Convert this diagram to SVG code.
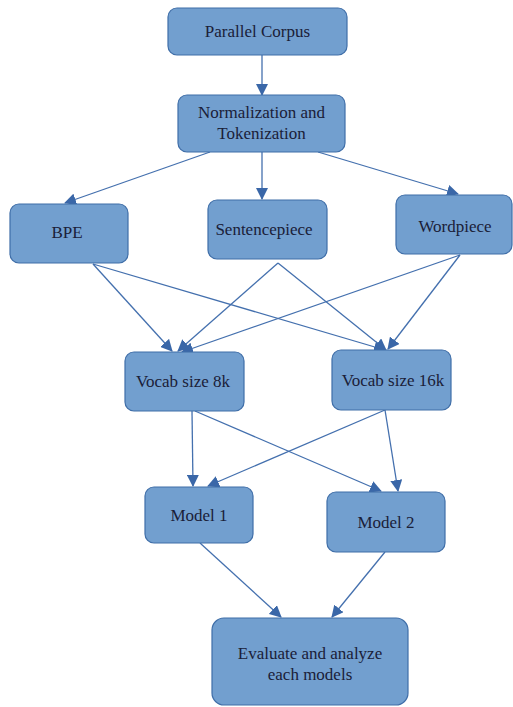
<svg xmlns="http://www.w3.org/2000/svg" width="513" height="707" viewBox="0 0 513 707">
<style>
.n rect{fill:#729fcf;stroke:#3f6ea8;stroke-width:1.2}
.n text{font-family:"Liberation Serif",serif;font-size:17px;fill:#1a2038;text-anchor:middle}
.c line{stroke:#4470ae;stroke-width:1.3;marker-end:url(#ah)}
</style>
<defs>
<marker id="ah" viewBox="0 0 12 12" refX="11" refY="6" markerWidth="12" markerHeight="12" markerUnits="userSpaceOnUse" orient="auto">
<path d="M0,0 L12,6 L0,12 Z" fill="#3a67a8"/>
</marker>
</defs>
<rect width="513" height="707" fill="#fff"/>
<g class="c">
<line x1="262" y1="55" x2="262" y2="95"/>
<line x1="210" y1="152" x2="65" y2="203"/>
<line x1="262" y1="152" x2="262" y2="199"/>
<line x1="318" y1="152" x2="458" y2="194"/>
<line x1="93" y1="264" x2="172" y2="351"/>
<line x1="93" y1="264" x2="385" y2="350"/>
<line x1="278" y1="263" x2="178" y2="351"/>
<line x1="278" y1="263" x2="386" y2="350"/>
<line x1="460" y1="255" x2="182" y2="352"/>
<line x1="460" y1="255" x2="388" y2="349"/>
<line x1="192" y1="411" x2="193" y2="486"/>
<line x1="195" y1="411" x2="381" y2="491"/>
<line x1="385" y1="410" x2="208" y2="486"/>
<line x1="385" y1="410" x2="398" y2="491"/>
<line x1="200" y1="543" x2="281" y2="617"/>
<line x1="385" y1="552" x2="332" y2="617"/>
</g>
<g id="parallel" class="n"><rect x="168" y="8" width="179" height="47" rx="9"/><text x="257.5" y="37">Parallel Corpus</text></g>
<g id="norm" class="n"><rect x="178" y="95" width="167" height="57" rx="9"/><text x="261.5" y="118">Normalization and</text><text x="261.5" y="139">Tokenization</text></g>
<g id="bpe" class="n"><rect x="10" y="204" width="118" height="59" rx="9"/><text x="67" y="238">BPE</text></g>
<g id="sentencepiece" class="n"><rect x="208" y="200" width="119" height="59" rx="9"/><text x="264" y="235">Sentencepiece</text></g>
<g id="wordpiece" class="n"><rect x="396" y="195" width="116" height="59" rx="9"/><text x="455" y="232">Wordpiece</text></g>
<g id="vocab8k" class="n"><rect x="125" y="352" width="119" height="59" rx="9"/><text x="183" y="387">Vocab size 8k</text></g>
<g id="vocab16k" class="n"><rect x="332" y="350" width="119" height="60" rx="9"/><text x="393" y="386">Vocab size 16k</text></g>
<g id="model1" class="n"><rect x="145" y="487" width="108" height="56" rx="9"/><text x="199" y="521">Model 1</text></g>
<g id="model2" class="n"><rect x="327" y="492" width="118" height="60" rx="9"/><text x="386" y="528">Model 2</text></g>
<g id="evaluate" class="n"><rect x="212" y="618" width="196" height="87" rx="12"/><text x="310" y="659">Evaluate and analyze</text><text x="310" y="680">each models</text></g>
</svg>
